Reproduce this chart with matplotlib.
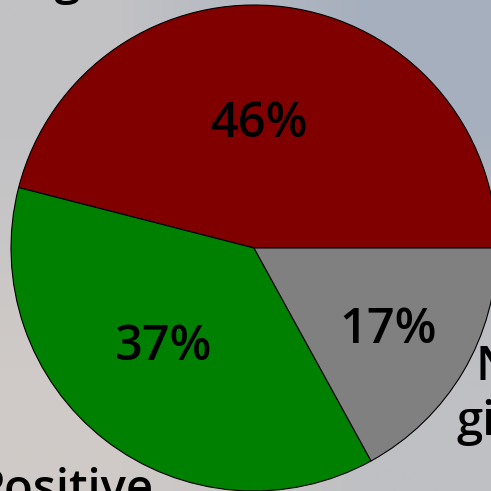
import matplotlib.pyplot as plt
import numpy as np

# answer shares
labels = ['Negative', 'Positive', 'Not\ngiven']
shares = [46, 37, 17]
colors = ['#800000', '#008000', '#808080']

plt.rcParams['font.family'] = ['Open Sans', 'DejaVu Sans']

fig = plt.figure(figsize=(4.91, 4.91), dpi=100)

# soft backdrop, warm grey bottom-left to blue grey top-right
bg = fig.add_axes([0, 0, 1, 1], zorder=0)
corners = np.array([[[194, 194, 197], [166, 175, 189]],
                    [[207, 202, 199], [191, 192, 195]]]) / 255.0
bg.imshow(corners, extent=[0, 1, 0, 1], interpolation='bilinear', aspect='auto')
bg.axis('off')

ax = fig.add_axes([0, 0, 1, 1], zorder=1)
ax.patch.set_alpha(0)

wedges, texts, autotexts = ax.pie(
    shares, labels=labels, colors=colors, startangle=0, counterclock=True,
    autopct='%d%%', pctdistance=0.6, labeldistance=1.25,
    wedgeprops=dict(edgecolor='black', linewidth=0.8),
    textprops=dict(fontsize=35, fontweight='semibold', color='black'))

# place the percentages and outer labels by hand
pct_pos = [(0.02, 0.51), (-0.37, -0.41), (0.551, -0.34)]
for t, p in zip(autotexts, pct_pos):
    t.set_position(p)
    t.set_ha('center')
    t.set_va('center')

label_pos = [(-0.67, 1.095), (-0.78, -0.996), (1.086, -0.605)]
for t, p in zip(texts, label_pos):
    t.set_position(p)
    t.set_ha('center')
    t.set_va('center')
    t.set_multialignment('center')
    t.set_fontsize(34)

ax.set_xlim(-254 / 243, 237 / 243)
ax.set_ylim(-243 / 243, 248 / 243)
ax.set_aspect('auto')
ax.axis('off')

fig.savefig('out.png', dpi=100)
